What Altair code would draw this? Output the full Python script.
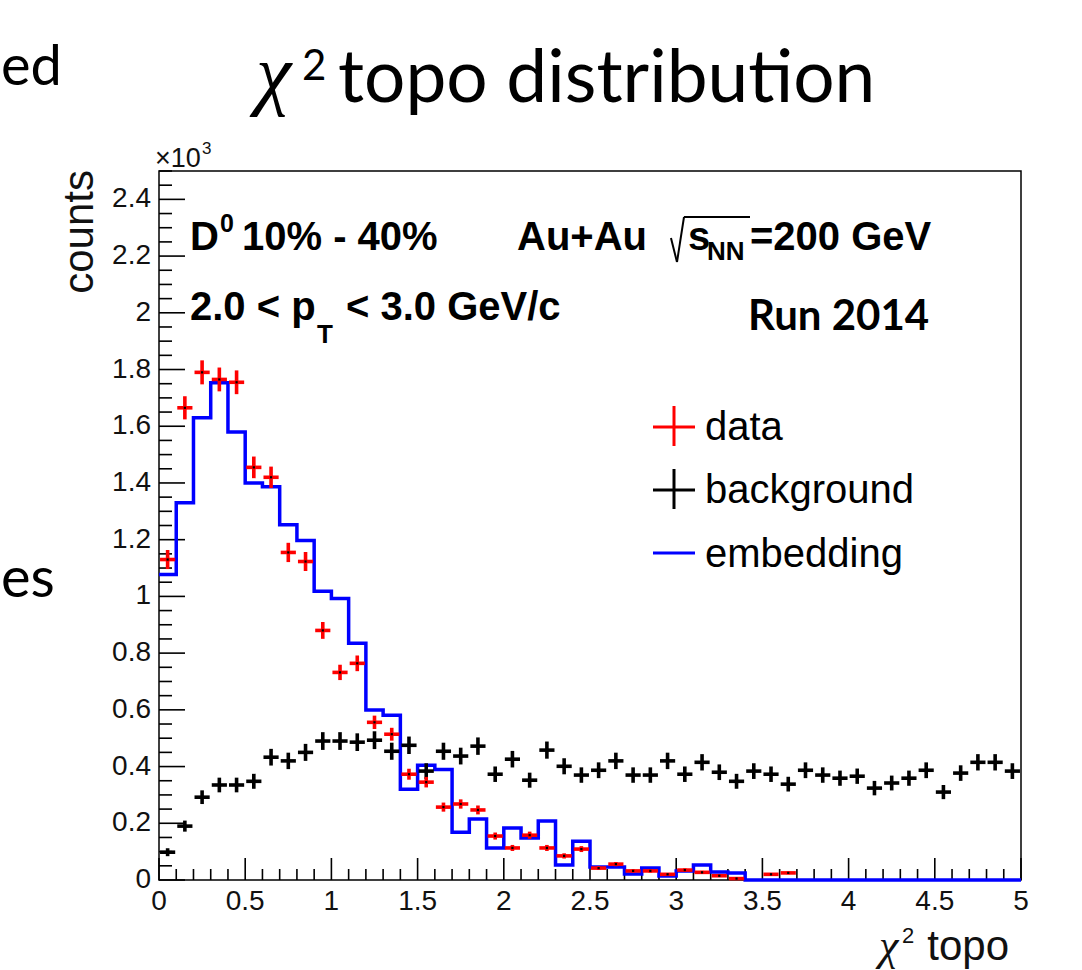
import numpy as np
import pandas as pd
import altair as alt

# ---------------- data (counts in units of 10^3), 50 bins of width 0.1 on [0, 5]
bin_width = 0.1
data_counts = [1.130, 1.665, 1.790, 1.765, 1.755, 1.455, 1.420, 1.155, 1.123, 0.880,
               0.732, 0.764, 0.556, 0.514, 0.373, 0.345, 0.257, 0.268, 0.247, 0.155,
               0.113, 0.158, 0.113, 0.085, 0.109, 0.042, 0.056, 0.032, 0.032, 0.020,
               0.035, 0.027, 0.015, 0.005, 0.000, 0.020, 0.025, 0.000, 0.000, 0.000,
               0.000, 0.000, 0.000, 0.000, 0.000, 0.000, 0.000, 0.000, 0.000, 0.000]
bkg_counts = [0.098, 0.190, 0.292, 0.335, 0.335, 0.348, 0.433, 0.420, 0.450, 0.490,
              0.490, 0.486, 0.493, 0.454, 0.475, 0.384, 0.454, 0.437, 0.472, 0.373,
              0.426, 0.352, 0.458, 0.401, 0.370, 0.387, 0.420, 0.370, 0.370, 0.420,
              0.373, 0.415, 0.380, 0.348, 0.384, 0.373, 0.338, 0.387, 0.370, 0.359,
              0.366, 0.324, 0.342, 0.359, 0.387, 0.310, 0.377, 0.415, 0.415, 0.384]
emb_counts = [1.077, 1.330, 1.630, 1.753, 1.580, 1.400, 1.387, 1.253, 1.197, 1.018,
              0.993, 0.835, 0.599, 0.581, 0.320, 0.405, 0.390, 0.168, 0.215, 0.113,
              0.183, 0.148, 0.208, 0.053, 0.137, 0.046, 0.046, 0.021, 0.042, 0.014,
              0.032, 0.053, 0.028, 0.025, 0.000, 0.000, 0.000, 0.000, 0.000, 0.000,
              0.000, 0.000, 0.000, 0.000, 0.000, 0.000, 0.000, 0.000, 0.000, 0.000]

x_major = [0, 0.5, 1, 1.5, 2, 2.5, 3, 3.5, 4, 4.5, 5]
x_minor = [round(0.1 * i, 1) for i in range(51) if i % 5 != 0]
y_major = [0, 0.2, 0.4, 0.6, 0.8, 1.0, 1.2, 1.4, 1.6, 1.8, 2.0, 2.2, 2.4]
y_minor = [round(0.05 * i, 2) for i in range(51) if i % 4 != 0]

# ---------------- layout (page pixels)
W, H = 862, 709
X0, Y0 = 159, 171            # plot-area origin on the page
PAD = {"left": X0, "top": Y0, "right": 1082 - X0 - W, "bottom": 970 - Y0 - H}

xs = alt.Scale(domain=[0, 5], nice=False, zero=False)
ys = alt.Scale(domain=[0, 2.5], nice=False, zero=False)

n = len(data_counts)
left_edges = [round(i * bin_width, 2) for i in range(n)]
centers = [round(e + bin_width / 2, 3) for e in left_edges]
half = 0.044

def cross_frame(vals, scale_err):
    df = pd.DataFrame({"c": centers, "v": vals})
    df = df[df["v"] > 0].copy()
    err = np.sqrt(df["v"] * 1000.0 * scale_err) / 1000.0
    df["lo"] = df["v"] - err
    df["hi"] = df["v"] + err
    df["xl"] = df["c"] - half
    df["xh"] = df["c"] + half
    return df

def crosses(df, color, width=3.6):
    h = alt.Chart(df).mark_rule(color=color, strokeWidth=width).encode(
        x=alt.X("xl:Q", scale=xs, axis=None), x2="xh:Q",
        y=alt.Y("v:Q", scale=ys, axis=None))
    v = alt.Chart(df).mark_rule(color=color, strokeWidth=width).encode(
        x=alt.X("c:Q", scale=xs, axis=None),
        y=alt.Y("lo:Q", scale=ys, axis=None), y2="hi:Q")
    return [h, v]

df_data = cross_frame(data_counts, 1.0)
df_bkg = cross_frame(bkg_counts, 2.0)

df_emb = pd.DataFrame({"x": left_edges + [5.0], "v": emb_counts + [emb_counts[-1]]})
emb_line = alt.Chart(df_emb).mark_line(color="#0000ff", strokeWidth=3.5,
                                       interpolate="step-after").encode(
    x=alt.X("x:Q", scale=xs, axis=None), y=alt.Y("v:Q", scale=ys, axis=None))

dots = alt.Chart(df_data).mark_square(color="black", size=5, opacity=1).encode(
    x=alt.X("c:Q", scale=xs, axis=None), y=alt.Y("v:Q", scale=ys, axis=None))

# ---------------- ticks (inward, ROOT style) + tick labels
TICKC = dict(color="black", strokeWidth=1.6)
xt_major = alt.Chart(pd.DataFrame({"t": x_major})).mark_rule(**TICKC).encode(
    x=alt.X("t:Q", scale=xs, axis=None), y=alt.value(H), y2=alt.value(H - 22))
xt_minor = alt.Chart(pd.DataFrame({"t": x_minor})).mark_rule(**TICKC).encode(
    x=alt.X("t:Q", scale=xs, axis=None), y=alt.value(H), y2=alt.value(H - 11))
yt_major = alt.Chart(pd.DataFrame({"t": y_major})).mark_rule(**TICKC).encode(
    y=alt.Y("t:Q", scale=ys, axis=None), x=alt.value(0), x2=alt.value(26))
yt_minor = alt.Chart(pd.DataFrame({"t": y_minor})).mark_rule(**TICKC).encode(
    y=alt.Y("t:Q", scale=ys, axis=None), x=alt.value(0), x2=alt.value(13))

x_lab_df = pd.DataFrame({"t": x_major, "s": [f"{v:g}" for v in x_major]})
y_lab_df = pd.DataFrame({"t": y_major, "s": [f"{v:g}" for v in y_major]})
x_labels = alt.Chart(x_lab_df).mark_text(
    font="Liberation Sans", fontSize=28, align="center", baseline="top", color="#111111").encode(
    x=alt.X("t:Q", scale=xs, axis=None), y=alt.value(H + 8), text="s:N")
y_labels = alt.Chart(y_lab_df).mark_text(
    font="Liberation Sans", fontSize=28, align="right", baseline="middle", color="#111111").encode(
    y=alt.Y("t:Q", scale=ys, axis=None), x=alt.value(-8), text="s:N")

# ---------------- text helpers (page pixel positions)
def label(text, x, y, size, font="Liberation Sans", weight="normal", style="normal",
          align="left", baseline="alphabetic", angle=0, color="black"):
    return alt.Chart(pd.DataFrame({"t": [text]})).mark_text(
        font=font, fontSize=size, fontWeight=weight, fontStyle=style, align=align,
        baseline=baseline, angle=angle, color=color).encode(
        text="t:N", x=alt.value(x - X0), y=alt.value(y - Y0))

def seg(x1, y1, x2, y2, color="black", width=2.0):
    return alt.Chart(pd.DataFrame({"a": [0]})).mark_rule(color=color, strokeWidth=width).encode(
        x=alt.value(x1 - X0), x2=alt.value(x2 - X0), y=alt.value(y1 - Y0), y2=alt.value(y2 - Y0))

HB = dict(font="Liberation Sans", weight="bold")
texts = [
    # slide title
    label("χ", 256, 100, 80, font="Liberation Serif", style="italic"),
    label("2", 302, 80, 42, font="Lato"),
    label("topo distribution", 338, 102, 73, font="Lato"),
    # slide text at the left edge
    label("ed", 1, 85, 56, font="Lato"),
    label("es", 1, 597, 56, font="Lato"),
    # axis chrome
    label("×10", 155, 167, 27, color="#111111"),
    label("3", 202, 154, 17, color="#111111"),
    label("counts", 93, 170, 42, align="right", angle=270, color="#111111"),
    label("χ", 879, 960, 44, font="Liberation Serif", style="italic", color="#111111"),
    label("2", 902, 943, 22, color="#111111"),
    label("topo", 1009, 960, 42, align="right", color="#111111"),
    # in-plot labels
    label("D", 190, 250, 40, **HB),
    label("0", 220, 232, 25, **HB),
    label("10% - 40%", 242, 250, 40, **HB),
    label("Au+Au", 517, 250, 40, **HB),
    label("s", 688, 250, 40, **HB),
    label("NN", 707, 260, 26, **HB),
    label("=200 GeV", 750, 250, 40, **HB),
    label("2.0 < p", 190, 320, 40, **HB),
    label("T", 317, 343, 26, **HB),
    label("< 3.0 GeV/c", 346, 320, 40, **HB),
    label("Run 2014", 748, 330, 42, font="Lato", weight="bold"),
    # legend texts
    label("data", 705, 440, 40),
    label("background", 705, 503, 40),
    label("embedding", 705, 567, 40),
]
shapes = [
    # sqrt sign
    seg(671, 238, 677, 262, width=2),
    seg(677, 262, 684, 217, width=2),
    seg(684, 217, 750, 217, width=2),
    # legend symbols
    seg(653, 427, 695, 427, "#ff0000", 3),
    seg(674, 406, 674, 446, "#ff0000", 3),
    seg(653, 490, 695, 490, "black", 3),
    seg(674, 469, 674, 509, "black", 3),
    seg(653, 553, 695, 553, "#0000ff", 3),
]

layers = [xt_major, xt_minor, yt_major, yt_minor, x_labels, y_labels, emb_line]
layers += crosses(df_bkg, "black")
layers += crosses(df_data, "#ff0000")
layers += [dots] + texts + shapes

chart = alt.layer(*layers).properties(
    width=W, height=H,
    autosize=alt.AutoSizeParams(type="none"),
    padding=PAD,
    background="white",
).configure_view(stroke="black", strokeWidth=1.5)

chart.save("out.html", embed_options={"renderer": "svg", "actions": False})
